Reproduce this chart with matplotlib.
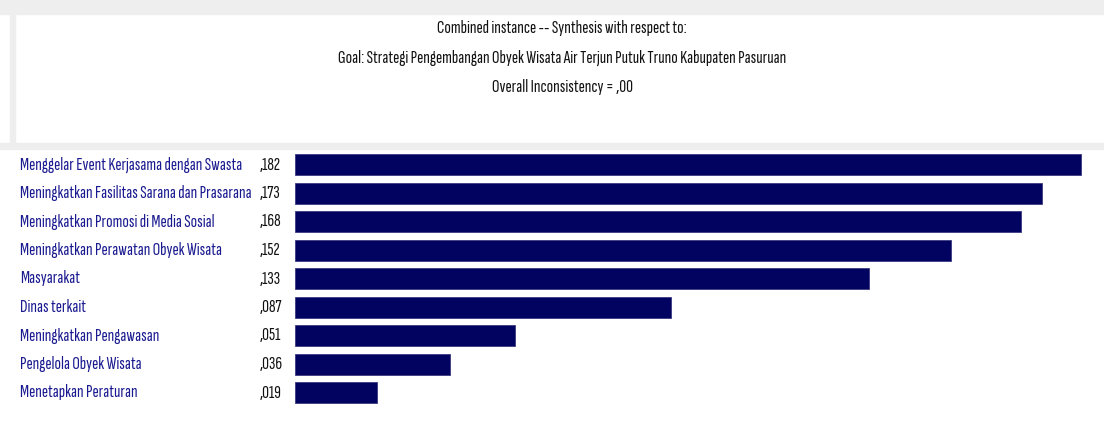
import matplotlib.pyplot as plt
from matplotlib.patches import Rectangle
import matplotlib.transforms as mtransforms

# data
labels = [
    "Menggelar Event Kerjasama dengan Swasta",
    "Meningkatkan Fasilitas Sarana dan Prasarana",
    "Meningkatkan Promosi di Media Sosial",
    "Meningkatkan Perawatan Obyek Wisata",
    "Masyarakat",
    "Dinas terkait",
    "Meningkatkan Pengawasan",
    "Pengelola Obyek Wisata",
    "Menetapkan Peraturan",
]
values = [0.182, 0.173, 0.168, 0.152, 0.133, 0.087, 0.051, 0.036, 0.019]
value_text = [",182", ",173", ",168", ",152", ",133", ",087", ",051", ",036", ",019"]
title_lines = [
    "Combined instance -- Synthesis with respect to:",
    "Goal: Strategi Pengembangan Obyek Wisata Air Terjun Putuk Truno Kabupaten Pasuruan",
    "Overall Inconsistency = ,00",
]

W, H = 1104, 443
plt.rcParams['font.family'] = ['Sofia Sans Extra Condensed', 'Roboto Condensed', 'DejaVu Sans']

fig = plt.figure(figsize=(W / 100, H / 100), dpi=100)
fig.patch.set_facecolor('white')
renderer = fig.canvas.get_renderer()


def fit_size(s, target_px, base=10.0):
    # font size that makes string s about target_px wide
    t = fig.text(0, 0, s, fontsize=base)
    w = t.get_window_extent(renderer).width
    t.remove()
    return base * target_px / w


def px_rect(x0, y0, x1, y1, color):
    # rectangle in pixel coords measured from top-left
    fig.patches.append(Rectangle((x0 / W, 1 - y1 / H), (x1 - x0) / W, (y1 - y0) / H,
                                 transform=fig.transFigure, color=color, zorder=0))


# window chrome: light gray strips
px_rect(0, 0, W, 14, '#eeeeee')
px_rect(10, 14, 15, 143, '#eeeeee')
px_rect(0, 143, W, 149, '#eeeeee')

fs_title = fit_size(title_lines[1], 446)
fs_label = fit_size(labels[1], 230)

title_y = [28, 58, 87]
for line, ty in zip(title_lines, title_y):
    fig.text(562 / W, 1 - ty / H, line, ha='center', va='center', fontsize=fs_title, color='#111111')

# bar axes
bar_x0, bar_xmax = 295, 1081
row0, pitch = 164.5, 28.5
n = len(values)
top = row0 - pitch / 2
ax = fig.add_axes([bar_x0 / W, 1 - (top + n * pitch) / H, (W - bar_x0) / W, n * pitch / H])
ax.set_xlim(0, max(values) * (W - bar_x0) / (bar_xmax - bar_x0))
ax.set_ylim(n - 0.5, -0.5)
ax.barh(range(n), values, height=21 / pitch, color='#020260', edgecolor='#3a3a80', linewidth=0.6)
ax.axis('off')

trans = mtransforms.blended_transform_factory(fig.transFigure, ax.transData)
for i, (lab, vt) in enumerate(zip(labels, value_text)):
    ax.text(20 / W, i, lab, transform=trans, ha='left', va='center', fontsize=fs_label,
            color='#1a1a90', clip_on=False)
    ax.text(260 / W, i, vt, transform=trans, ha='left', va='center', fontsize=fs_label,
            color='#111111', clip_on=False)

fig.savefig('out.png', dpi=100)
